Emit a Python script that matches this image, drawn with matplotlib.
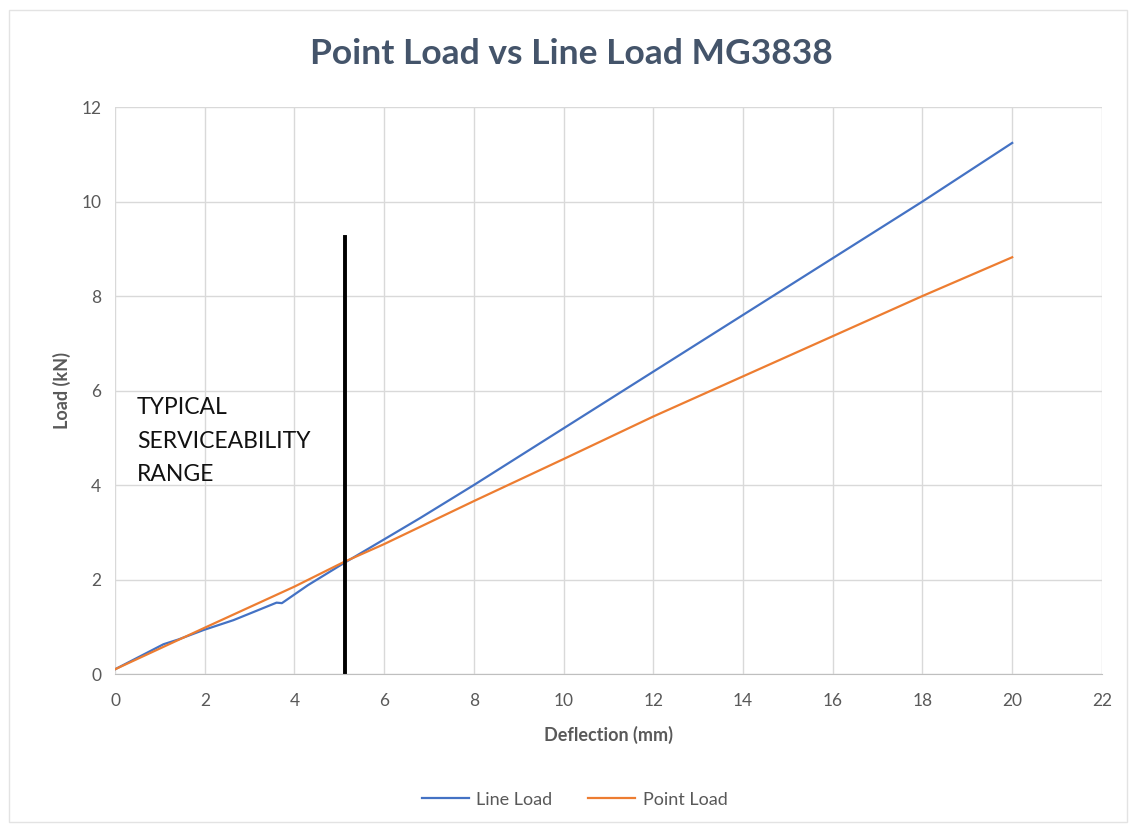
import matplotlib.pyplot as plt
from matplotlib.patches import Rectangle

plt.rcParams['font.family'] = ['Lato', 'DejaVu Sans']

# Line load curve (deflection mm, load kN)
line_x = [0, 1.08, 1.41, 1.97, 2.64, 3.16, 3.6, 3.72, 4.3, 5.09, 6.0, 6.8, 8, 10, 12, 14, 16, 18, 20]
line_y = [0.1, 0.63, 0.73, 0.93, 1.14, 1.34, 1.51, 1.5, 1.88, 2.34, 2.85, 3.3, 4.0, 5.2, 6.4, 7.6, 8.8, 10.0, 11.24]

# Point load curve
point_x = [0, 2, 4, 5.1, 6, 8, 10, 12, 14, 16, 18, 20]
point_y = [0.1, 0.98, 1.85, 2.37, 2.75, 3.66, 4.55, 5.45, 6.3, 7.15, 8.0, 8.82]

limit_x = 5.13
limit_top = 9.25

fig = plt.figure(figsize=(11.29, 8.27), dpi=100)
ax = fig.add_axes([0.1019, 0.185, 0.976 - 0.1019, 0.8706 - 0.185])

# outer chart frame
fig.patches.append(Rectangle((0.008, 0.006), 0.99, 0.982, transform=fig.transFigure,
                             fill=False, edgecolor='#E3E3E3', linewidth=1))

ax.plot(line_x, line_y, color='#4472C4', linewidth=1.6, label='Line Load')
ax.plot(point_x, point_y, color='#ED7D31', linewidth=1.6, label='Point Load')
ax.plot([limit_x, limit_x], [0, limit_top], color='black', linewidth=2.8)

ax.text(0.49, 5.86, 'TYPICAL\nSERVICEABILITY\nRANGE', fontsize=16.5, color='#111111',
        va='top', ha='left', linespacing=1.74)

ax.set_xlim(0, 22)
ax.set_ylim(0, 12)
ax.set_xticks(range(0, 23, 2))
ax.set_yticks(range(0, 13, 2))
ax.grid(True, color='#D9D9D9', linewidth=1)
ax.set_axisbelow(True)
for s in ['top', 'right', 'left']:
    ax.spines[s].set_visible(False)
ax.spines['bottom'].set_color('#BFBFBF')
ax.tick_params(axis='x', length=0, labelsize=12.5, labelcolor='#595959', pad=14)
ax.tick_params(axis='y', length=0, labelsize=12.5, labelcolor='#595959', pad=10)

ax.set_xlabel('Deflection (mm)', fontsize=13, fontweight='bold', color='#595959', labelpad=12)
ax.set_ylabel('Load (kN)', fontsize=13, fontweight='bold', color='#595959', labelpad=7)
fig.text(0.506, 0.935, 'Point Load vs Line Load MG3838', ha='center', va='center',
         fontsize=25.5, fontweight='bold', color='#44546A')

fig.legend(loc='center', bbox_to_anchor=(0.509, 0.033), ncol=2, frameon=False,
           fontsize=13, labelcolor='#595959', handlelength=2.6, handletextpad=0.4,
           columnspacing=2.0)

fig.savefig('out.png', dpi=100)
